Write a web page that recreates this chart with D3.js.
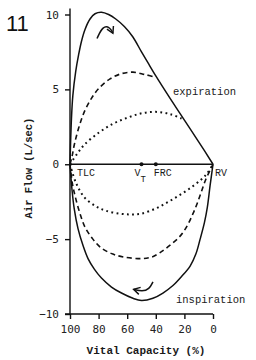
<!DOCTYPE html>
<html>
<head>
<meta charset="utf-8">
<script src="https://cdn.jsdelivr.net/npm/d3@7"></script>
<style>
  html, body { margin: 0; padding: 0; background: #fff; }
  svg { display: block; }
  .tick text { font-family: "DejaVu Sans Mono", monospace; fill: #222; }
  .lbl { font-family: "Liberation Mono", "Courier New", monospace; fill: #1a1a1a; }
</style>
</head>
<body>
<div id="chart"></div>
<script>
// Flow-volume loop: vital capacity (%) vs air flow (L/sec)
const vcTicks = [100, 80, 60, 40, 20, 0];
const flowTicks = [10, 5, 0, -5, -10];

// expiration, maximal effort
const expMax = [[100, 0], [99, 3], [98, 4.6], [96, 6.2], [94, 7.3], [92, 8.2], [89.5, 9], [86, 9.7],
  [82.5, 10.05], [78, 10.15], [73, 10], [68, 9.7], [62, 9.2], [56, 8.5], [50, 7.5], [45, 6.7],
  [40, 5.9], [30, 4.4], [20, 2.95], [10, 1.5], [0, 0]];
// expiration, moderate effort (joins max curve)
const expMid = [[100, 0], [98.6, 0.5], [97, 1.3], [94, 2.4], [90, 3.5], [85, 4.4], [80, 5.05],
  [72, 5.7], [64, 6.05], [56, 6.15], [48, 6.0], [40, 5.8]];
// expiration, low effort
const expLow = [[100, 0], [95, 0.7], [90, 1.3], [80, 2.1], [70, 2.7], [60, 3.1], [50, 3.4],
  [40, 3.5], [30, 3.35], [22, 3.05]];

// inspiration curves
const inspMax = [[100, 0], [98.6, -1.7], [97, -3], [94.4, -4.3], [91, -5.4], [87.4, -6.3], [83, -7],
  [78, -7.6], [71, -8.2], [64, -8.6], [56, -8.95], [50, -9.1], [42, -8.95], [35, -8.6], [28, -8.1],
  [22, -7.5], [16, -6.8], [12, -6.0], [9, -5], [6, -3.9], [4, -2.9], [2, -1.4], [0, 0]];
const inspMid = [[100, 0], [98.5, -1.2], [96.5, -2.1], [93, -3.3], [89.5, -4.2], [84, -5.0], [78, -5.6],
  [70, -6.0], [62, -6.2], [50, -6.3], [43, -6.2], [37, -5.9], [30, -5.4], [23, -4.8], [18, -4.1],
  [14, -3.3], [11, -2.6], [8, -1.8], [5, -1.0], [0, 0]];
const inspLow = [[100, 0], [96, -1.2], [90, -2.2], [82, -2.8], [75, -3.1], [65, -3.3], [57, -3.35],
  [50, -3.3], [40, -2.95], [32, -2.55], [24, -2.1], [16, -1.6], [8, -1.0], [4, -0.6], [0, 0]];

// volume markers on the zero-flow line
const markers = [
  { name: 'TLC', sub: '', vc: 100, dx: 7, dot: false },
  { name: 'V', sub: 'T', vc: 50, dx: -7, dot: true },
  { name: 'FRC', sub: '', vc: 40, dx: -2, dot: true },
  { name: 'RV', sub: '', vc: 0, dx: 2, dot: false }
];

// direction arrows (data coords)
const expArrow = [[81.1, 8.4], [77, 9.25], [72, 9.15], [70, 8.75]];
const inspArrow = [[42, -7.85], [44.6, -8.35], [49.5, -8.5], [55.5, -8.35]];

const width = 256, height = 360;
const svg = d3.select('#chart').append('svg')
  .attr('width', width)
  .attr('height', height);

svg.append('defs').append('marker')
  .attr('id', 'head')
  .attr('viewBox', '0 0 10 10')
  .attr('refX', 8).attr('refY', 5)
  .attr('markerWidth', 6).attr('markerHeight', 6)
  .attr('orient', 'auto')
  .append('path')
  .attr('d', 'M1,1 L8,5 L1,9')
  .attr('fill', 'none')
  .attr('stroke', '#111')
  .attr('stroke-width', 1.6);

const x = d3.scaleLinear().domain([100, 0]).range([70, 213]);
const y = d3.scaleLinear().domain([10, -10]).range([14.5, 314]);

// axes
const yAxis = svg.append('g')
  .attr('transform', `translate(${x(100)},0)`)
  .call(d3.axisLeft(y).tickValues(flowTicks).tickSize(5).tickPadding(6)
    .tickFormat(d => d < 0 ? '\u2212' + Math.abs(d) : d));
const xAxis = svg.append('g')
  .attr('transform', `translate(0,${y(-10)})`)
  .call(d3.axisBottom(x).tickValues(vcTicks).tickSize(5).tickPadding(6));

[xAxis, yAxis].forEach(g => {
  g.select('.domain').attr('stroke', '#111').attr('stroke-width', 1.4);
  g.selectAll('.tick line').attr('stroke', '#111').attr('stroke-width', 1.4);
  g.selectAll('.tick text').style('font-size', '11px');
});
yAxis.select('.domain').attr('d', `M0,${y(10.4)}V${y(-10)}`);
xAxis.select('.domain').attr('d', `M${x(100) - 5},0H${x(0)}`);

// zero-flow line
svg.append('line')
  .attr('x1', x(100)).attr('x2', x(0))
  .attr('y1', y(0)).attr('y2', y(0))
  .attr('stroke', '#111').attr('stroke-width', 1.5);

const line = d3.line()
  .x(d => x(d[0]))
  .y(d => y(d[1]))
  .curve(d3.curveCatmullRom.alpha(0.5));

const series = [
  { data: expMax, dash: null, w: 1.5 },
  { data: inspMax, dash: null, w: 1.5 },
  { data: expMid, dash: '5,3.5', w: 1.6 },
  { data: inspMid, dash: '5,3.5', w: 1.6 },
  { data: expLow, dash: '1.8,3.4', w: 2 },
  { data: inspLow, dash: '1.8,3.4', w: 2 }
];

svg.selectAll('.curve')
  .data(series)
  .join('path')
  .attr('class', 'curve')
  .attr('d', d => line(d.data))
  .attr('fill', 'none')
  .attr('stroke', '#111')
  .attr('stroke-width', d => d.w)
  .attr('stroke-dasharray', d => d.dash);

// arrows
const arrowLine = d3.line().x(d => x(d[0])).y(d => y(d[1])).curve(d3.curveBasis);
svg.selectAll('.arrow')
  .data([expArrow, inspArrow])
  .join('path')
  .attr('class', 'arrow')
  .attr('d', arrowLine)
  .attr('fill', 'none')
  .attr('stroke', '#111')
  .attr('stroke-width', 1.5)
  .attr('marker-end', 'url(#head)');

// markers
svg.selectAll('.mdot')
  .data(markers.filter(d => d.dot))
  .join('circle')
  .attr('class', 'mdot')
  .attr('cx', d => x(d.vc))
  .attr('cy', y(0))
  .attr('r', 2)
  .attr('fill', '#111');

const mText = svg.selectAll('.mtext')
  .data(markers)
  .join('text')
  .attr('class', 'lbl mtext')
  .attr('x', d => x(d.vc) + d.dx)
  .attr('y', y(0) + 12)
  .style('font-size', '10px');
mText.append('tspan').text(d => d.name);
mText.filter(d => d.sub).append('tspan')
  .attr('dy', 6)
  .style('font-size', '9px')
  .text(d => d.sub);

// curve labels
svg.append('text').attr('class', 'lbl')
  .attr('x', 173).attr('y', 95)
  .style('font-size', '10.5px')
  .text('expiration');
svg.append('text').attr('class', 'lbl')
  .attr('x', 176).attr('y', 303)
  .style('font-size', '10.5px')
  .text('inspiration');

// axis titles
svg.append('text').attr('class', 'lbl')
  .attr('x', 146).attr('y', 354)
  .attr('text-anchor', 'middle')
  .style('font-size', '11px')
  .style('font-weight', 'bold')
  .text('Vital Capacity (%)');
svg.append('text').attr('class', 'lbl')
  .attr('transform', 'translate(32,168) rotate(-90)')
  .attr('text-anchor', 'middle')
  .style('font-size', '10.5px')
  .style('font-weight', 'bold')
  .text('Air Flow (L/sec)');

// figure number
svg.append('text')
  .attr('x', 6).attr('y', 31)
  .style('font-family', '"Liberation Sans", Arial, sans-serif')
  .style('font-size', '22px')
  .attr('fill', '#111')
  .text('11');
</script>
</body>
</html>
